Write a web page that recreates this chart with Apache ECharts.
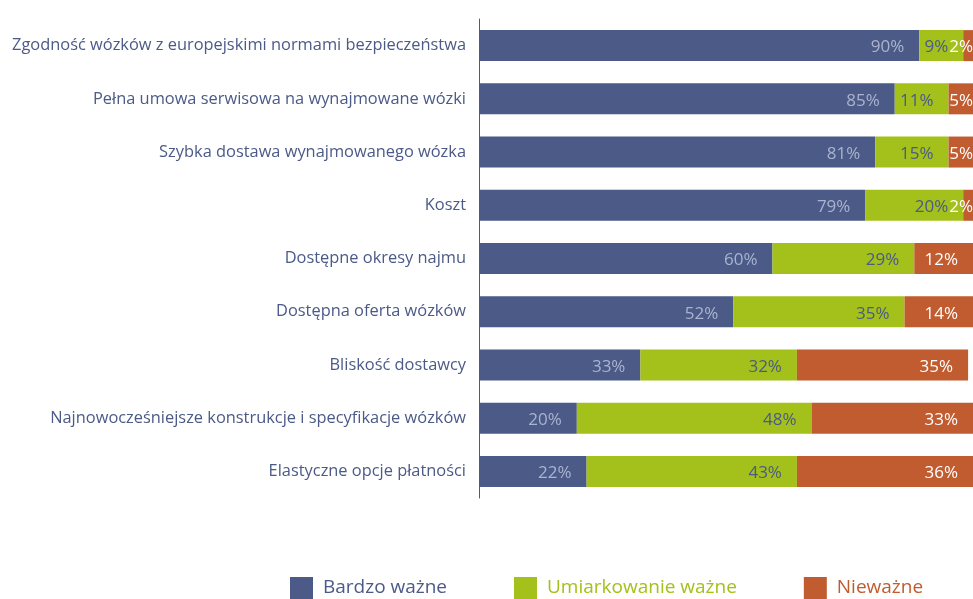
<!DOCTYPE html>
<html>
<head>
<meta charset="utf-8">
<script src="https://cdn.jsdelivr.net/npm/echarts@6/dist/echarts.min.js"></script>
<style>
  html, body { margin: 0; padding: 0; background: #fff; }
  #chart { width: 973px; height: 599px; }
</style>
</head>
<body>
<div id="chart"></div>
<script>
// kategorie (od góry do dołu)
var categories = [
  'Zgodność wózków z europejskimi normami bezpieczeństwa',
  'Pełna umowa serwisowa na wynajmowane wózki',
  'Szybka dostawa wynajmowanego wózka',
  'Koszt',
  'Dostępne okresy najmu',
  'Dostępna oferta wózków',
  'Bliskość dostawcy',
  'Najnowocześniejsze konstrukcje i specyfikacje wózków',
  'Elastyczne opcje płatności'
];
var bardzoWazne = [90, 85, 81, 79, 60, 52, 33, 20, 22];
var umiarkowanie = [9, 11, 15, 20, 29, 35, 32, 48, 43];
var niewazne = [2, 5, 5, 2, 12, 14, 35, 33, 36];

var seriesNames = ['Bardzo ważne', 'Umiarkowanie ważne', 'Nieważne'];
var colors = ['#4b5a87', '#a3c11a', '#c05c2f'];
var labelColors = ['#aab3cf', '#4b5a87', '#ffffff'];
var FONT = '"Open Sans", sans-serif';

function makeSeries(idx, values) {
  return {
    name: seriesNames[idx],
    type: 'bar',
    stack: 'total',
    barWidth: 31,
    itemStyle: { color: colors[idx] },
    label: {
      show: true,
      position: 'insideRight',
      distance: 15,
      offset: [0, 2],
      color: labelColors[idx],
      fontFamily: FONT,
      fontSize: 17,
      formatter: '{c}%'
    },
    // wąskie segmenty: etykieta dosunięta do prawej krawędzi
    data: values.map(function (v) {
      if (v < 8) return { value: v, label: { distance: 0 } };
      return v;
    })
  };
}

var chart = echarts.init(document.getElementById('chart'));
chart.setOption({
  animation: false,
  grid: { left: 479, right: 0, top: 19, bottom: 101 },
  legend: {
    left: 290,
    top: 577,
    padding: 0,
    itemWidth: 23,
    itemHeight: 22,
    itemGap: 67,
    icon: 'rect',
    textStyle: { fontFamily: FONT, fontSize: 19, padding: [0, 0, 0, 5] },
    data: seriesNames.map(function (n, i) {
      return { name: n, textStyle: { color: colors[i] } };
    })
  },
  xAxis: {
    type: 'value',
    min: 0,
    max: 101,
    show: false
  },
  yAxis: {
    type: 'category',
    inverse: true,
    data: categories,
    axisLine: { show: true, lineStyle: { color: '#4b5a87', width: 1 } },
    axisTick: { show: false },
    axisLabel: {
      margin: 13,
      color: '#4b5a87',
      fontFamily: FONT,
      fontSize: 16.4
    }
  },
  series: [
    makeSeries(0, bardzoWazne),
    makeSeries(1, umiarkowanie),
    makeSeries(2, niewazne)
  ]
});
</script>
</body>
</html>
